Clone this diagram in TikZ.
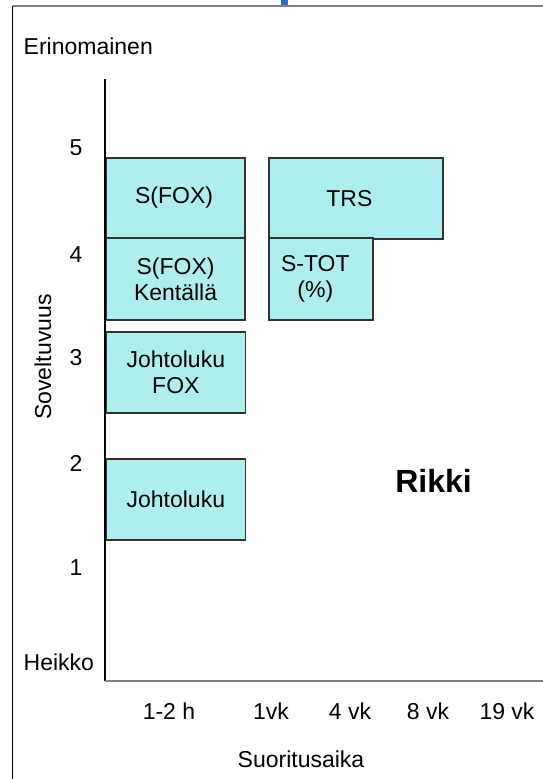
\documentclass[tikz,border=0pt]{standalone}
\usepackage{fontspec}
\setmainfont{Liberation Sans}
\definecolor{boxfill}{HTML}{AFEEEE}
\definecolor{topblue}{HTML}{2A6EBB}
\begin{document}
\begin{tikzpicture}[x=1pt,y=-1pt,
  font=\fontsize{23}{26}\selectfont,
  box/.style={draw=black!80, line width=1.7pt, fill=boxfill, inner sep=0pt, anchor=north west},
  lbl/.style={align=center, inner sep=0pt},
  tick/.style={inner sep=0pt},
  frameline/.style={line width=1.4pt, black},
  greyline/.style={line width=2pt, black!50}]
\useasboundingbox (0,0) rectangle (543,779);
\fill[white] (0,0) rectangle (543,779);
% outer frame
\coordinate (ftl) at (12.5,5.5);
\coordinate (ftr) at (543,5.5);
\coordinate (fbl) at (12.5,779);
\draw[greyline] (ftl) -- (ftr);
\draw[frameline] (ftl) -- (fbl);
\fill[topblue] (281,0) rectangle (288,5);
% axes
\coordinate (ytop) at (105,79);
\coordinate (orig) at (105,681);
\coordinate (xend) at (543,681);
\draw[frameline] (ytop) -- (orig);
\draw[greyline] (orig) -- (xend);
% boxes
\node[box, minimum width=138.5pt, minimum height=80pt] (sfox) at (105.5,157) {};
\node[box, minimum width=138.5pt, minimum height=82pt] (kent) at (105.5,237) {};
\node[box, minimum width=139pt, minimum height=81pt] (jfox) at (105.5,331) {};
\node[box, minimum width=139pt, minimum height=81pt] (joht) at (105.5,458) {};
\node[box, minimum width=174pt, minimum height=81pt] (trs) at (268,157) {};
\node[box, minimum width=104pt, minimum height=82pt] (stot) at (268,237) {};
% box labels
\node[lbl] (tsfox) at ([xshift=-1.5pt]sfox.center) {S(FOX)};
\node[lbl] (tkent) at (kent.center) {S(FOX)\\Kentällä};
\node[lbl] (tjfox) at (jfox.center) {Johtoluku\\FOX};
\node[lbl] (tjoht) at (joht.center) {Johtoluku};
\node[lbl] (ttrs) at ([xshift=-6.5pt]trs.center) {TRS};
\node[lbl] (tstot) at ([xshift=-5.5pt]stot.center) {S-TOT\\(\%)};
% y axis labels
\node[tick, anchor=base west] (erin) at (23.5,54) {Erinomainen};
\node[tick, anchor=west] (heik) at (23.5,662) {Heikko};
\node[tick] (y5) at (76,148) {5};
\node[tick] (y4) at (76,255) {4};
\node[tick] (y3) at (76,358) {3};
\node[tick] (y2) at (76,463) {2};
\node[tick] (y1) at (76,568) {1};
\node[tick, rotate=90] (ylab) at (43,357) {Soveltuvuus};
% x axis labels
\node[tick] (x1) at (169,711) {1-2 h};
\node[tick] (x2) at (271,711) {1vk};
\node[tick] (x3) at (350,711) {4 vk};
\node[tick] (x4) at (428,711) {8 vk};
\node[tick] (x5) at (507,711) {19 vk};
\node[tick] (xlab) at (301,759) {Suoritusaika};
% Rikki
\node[tick, font=\fontsize{32}{36}\selectfont\bfseries] (rikki) at (433.5,481) {Rikki};
\end{tikzpicture}
\end{document}
